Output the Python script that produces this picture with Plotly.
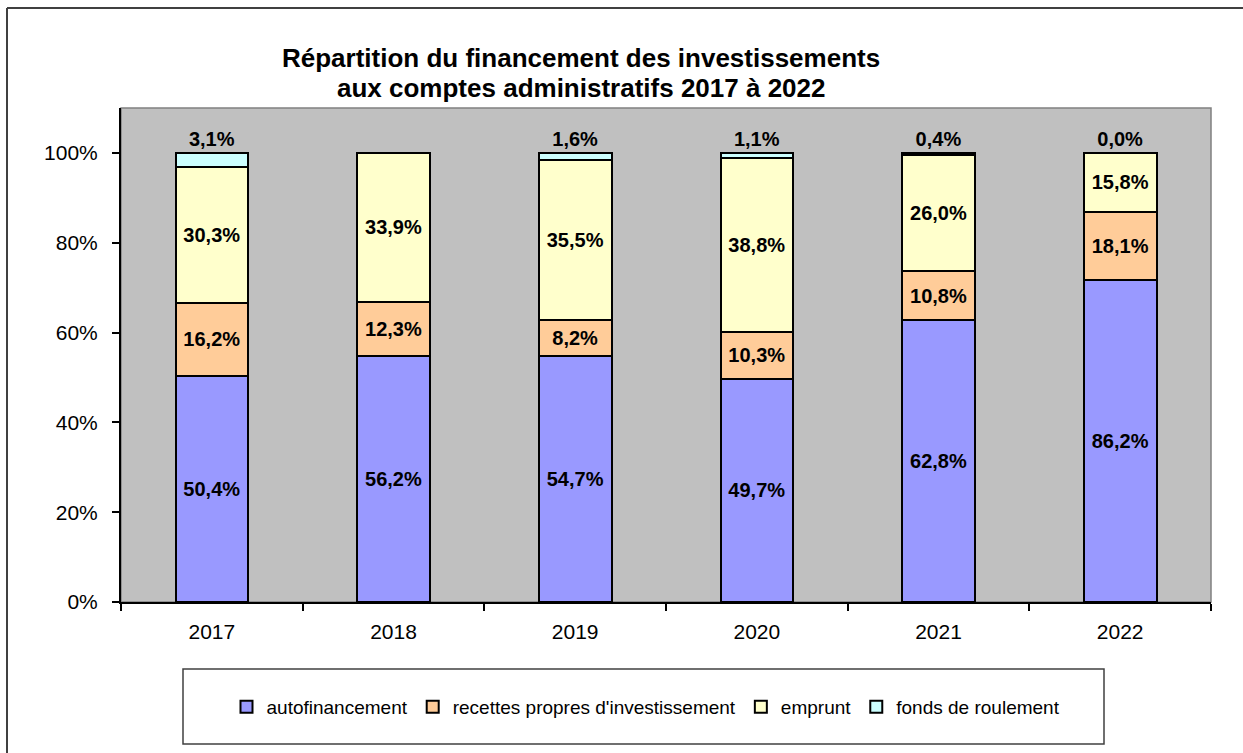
"""Stacked 100% bar chart: financing of investments, 2017-2022."""

import plotly.graph_objects as go

years = ["2017", "2018", "2019", "2020", "2021", "2022"]

autofinancement = [50.4, 56.2, 54.7, 49.7, 62.8, 86.2]
recettes_propres = [16.2, 12.3, 8.2, 10.3, 10.8, 18.1]
emprunt = [30.3, 33.9, 35.5, 38.8, 26.0, 15.8]
fonds_roulement = [3.1, None, 1.6, 1.1, 0.4, 0.0]

y_ticks = [0, 20, 40, 60, 80, 100]

series = [
    ("autofinancement", autofinancement, "#9999FF", "inside"),
    ("recettes propres d'investissement", recettes_propres, "#FFCC99", "inside"),
    ("emprunt", emprunt, "#FFFFCC", "inside"),
    ("fonds de roulement", fonds_roulement, "#CCFFFF", "outside"),
]

FONT = "Liberation Sans, Arial, sans-serif"


def fr_pct(v):
    if v is None:
        return ""
    return f"{v:.1f}".replace(".", ",") + "%"


fig = go.Figure()
for name, values, color, pos in series:
    fig.add_trace(
        go.Bar(
            x=years,
            y=values,
            name=name,
            marker=dict(color=color, line=dict(color="black", width=2)),
            text=[fr_pct(v) for v in values],
            textposition=pos,
            insidetextanchor="middle",
            textangle=0,
            constraintext="none",
            cliponaxis=False,
            textfont=dict(family=FONT, size=20, color="black", weight="bold"),
        )
    )

# outer frame (cut at right and bottom like the source image) and legend box
frame_x0 = -114 / 1090
frame_y1 = 594 / 494
fig.add_shape(type="line", xref="paper", yref="paper", x0=frame_x0, x1=1.2,
              y0=frame_y1, y1=frame_y1, line=dict(color="#404040", width=2))
fig.add_shape(type="line", xref="paper", yref="paper", x0=frame_x0, x1=frame_x0,
              y0=frame_y1, y1=-0.4, line=dict(color="#404040", width=2))
fig.add_shape(type="rect", xref="paper", yref="paper",
              x0=62 / 1090, x1=983 / 1090, y0=-142 / 494, y1=-67 / 494,
              line=dict(color="#404040", width=1.5))
# thin gray border around the plot area
fig.add_shape(type="rect", xref="paper", yref="paper", x0=0, x1=1, y0=0, y1=1,
              line=dict(color="#808080", width=1.5), layer="below")

title_lines = [
    "Répartition du financement des investissements",
    "aux comptes administratifs 2017 à 2022",
]
title_y = [(602 - 58) / 494, (602 - 88) / 494]

fig.update_layout(
    width=1243,
    height=753,
    margin=dict(l=121, r=32, t=108, b=151),
    paper_bgcolor="white",
    plot_bgcolor="#C0C0C0",
    barmode="stack",
    barnorm="percent",
    bargap=0.6,
    font=dict(family=FONT, size=21, color="black"),
    showlegend=True,
    legend=dict(
        orientation="h",
        x=(646 - 121) / 1090,
        xanchor="center",
        y=-105 / 494,
        yanchor="middle",
        font=dict(family=FONT, size=19, color="black"),
        bgcolor="rgba(0,0,0,0)",
        itemwidth=30,
        traceorder="normal",
    ),
    annotations=[
        dict(
            text=line,
            xref="paper", yref="paper",
            x=(581 - 121) / 1090, y=yy,
            xanchor="center", yanchor="middle",
            showarrow=False,
            font=dict(family=FONT, size=26, color="black", weight="bold"),
        )
        for line, yy in zip(title_lines, title_y)
    ],
)

fig.update_xaxes(
    showline=True, linecolor="black", linewidth=2,
    ticks="outside", tickson="boundaries", ticklen=7, tickwidth=2, tickcolor="black",
    tickfont=dict(size=21),
    ticklabelstandoff=10,
    showgrid=False,
)
fig.update_yaxes(
    range=[0, 110],
    tickvals=y_ticks,
    ticktext=[f"{t}%" for t in y_ticks],
    showline=True, linecolor="black", linewidth=2,
    ticks="outside", ticklen=7, tickwidth=2, tickcolor="black",
    tickfont=dict(size=21),
    ticklabelstandoff=10,
    showgrid=False, zeroline=False,
)

fig.write_html(
    "out.html",
    config={"displayModeBar": False},
    post_script="document.body.style.margin='0';",
)
